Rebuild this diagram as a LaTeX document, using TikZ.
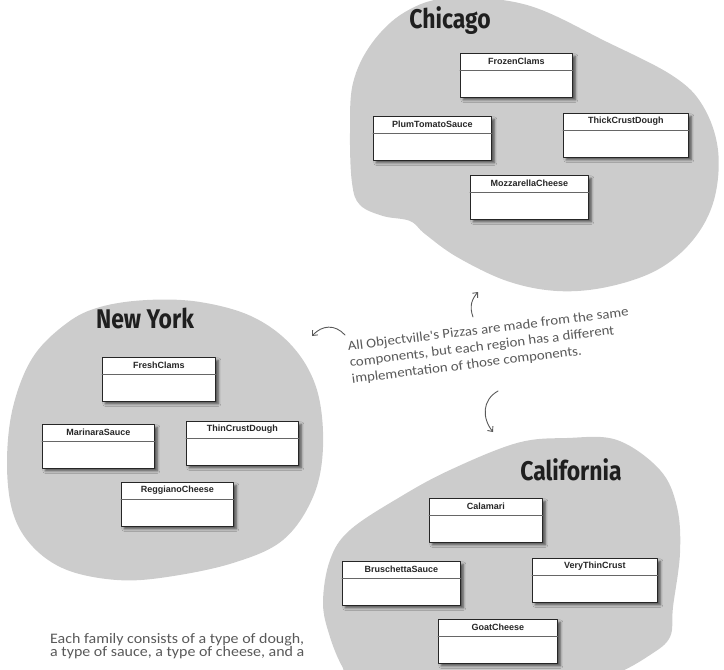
\documentclass[tikz,border=0pt]{standalone}
\usepackage{fontspec}
\usetikzlibrary{shadows.blur,arrows.meta}
\newfontfamily\handfont[FakeStretch=1.1]{Carlito}
\newfontfamily\titlefont[FakeStretch=0.85]{Fira Sans}
\newfontfamily\boxfont{Liberation Sans}
\newcommand\ingredient[5]{%
\node[classbox,minimum width=#4pt,anchor=north west] (#1) at (#2,#3) {};
\node[classname] (#1-name) at ([yshift=-8.5pt]#1.north) {#5};
\draw[divider] ([yshift=-17pt]#1.north west)--([yshift=-17pt]#1.north east);}
\begin{document}
\begin{tikzpicture}[x=1pt,y=-1pt,line join=round,line cap=round,>={Straight Barb[length=4pt,width=7pt]},
blob/.style={fill=black!20},
region/.style={font=\titlefont\bfseries\fontsize{27}{30}\selectfont,text=black!88,inner sep=0pt},
classbox/.style={draw=black!85,fill=white,line width=0.7pt,minimum height=43.5pt,inner sep=0pt,
  blur shadow={shadow xshift=3pt,shadow yshift=-3pt,shadow blur radius=2.5pt,shadow opacity=60}},
classname/.style={font=\boxfont\bfseries\fontsize{9}{10}\selectfont,text=black!85,inner sep=0pt},
divider/.style={draw=black!60,line width=0.6pt},
note/.style={font=\handfont\fontsize{13.5}{16.5}\selectfont,text=black!65,align=left,inner sep=0pt},
pointer/.style={draw=black!65,line width=0.9pt,->}]
\useasboundingbox (0,0) rectangle (724,670);
\clip (0,0) rectangle (724,670);
\fill[blob] plot[smooth cycle,tension=0.6] coordinates{(405,12) (450,-2) (527,5) (607,42) (673,76) (703,106) (718,150) (714,200) (693,240) (657,270) (607,287) (557,291) (507,281) (457,257) (425,234) (410,221) (383,216) (360,205) (352,183) (350,133) (353,83) (372,43)};
\fill[blob] plot[smooth cycle,tension=0.6] coordinates{(147,300) (200,302) (253,317) (293,347) (317,390) (323,447) (313,497) (283,540) (233,563) (167,577) (117,580) (67,570) (33,547) (13,513) (7,463) (13,407) (33,357) (67,323) (100,307)};
\fill[blob] plot[smooth cycle,tension=0.6] coordinates{(567,438) (617,440) (660,470) (677,507) (680,553) (673,607) (670,637) (650,655) (613,675) (560,690) (360,690) (343,668) (330,637) (323,603) (330,560) (350,530) (400,497) (450,470) (517,443)};
\node[region] (chicago) at (450,21) {Chicago};
\node[region] (newyork) at (145,318) {New York};
\node[region] (california) at (571,470) {California};
\ingredient{frozen}{460}{53}{112}{FrozenClams}
\ingredient{plumtomato}{373}{116}{118}{PlumTomatoSauce}
\ingredient{thickcrust}{563}{113}{125}{ThickCrustDough}
\ingredient{mozzarella}{470}{175}{118}{MozzarellaCheese}
\ingredient{freshclams}{102}{357}{113}{FreshClams}
\ingredient{marinara}{42}{424}{112}{MarinaraSauce}
\ingredient{thincrust}{186}{421}{112}{ThinCrustDough}
\ingredient{reggiano}{121}{482}{112}{ReggianoCheese}
\ingredient{calamari}{429}{498}{113}{Calamari}
\ingredient{bruschetta}{342}{561}{118}{BruschettaSauce}
\ingredient{verythin}{532}{558}{125}{VeryThinCrust}
\ingredient{goat}{438}{619}{119}{GoatCheese}
\node[note,rotate=7,anchor=north west] (allregions) at (347,341) {All Objectville's Pizzas are made from the same\\components, but each region has a different\\implementation of those components.};
\node[note,anchor=north west,font=\handfont\fontsize{14.5}{13.5}\selectfont] (family) at (50,633) {Each family consists of a type of dough,\\a type of sauce, a type of cheese, and a};
\coordinate (up0) at (473,317); \coordinate (up1) at (478,292);
\coordinate (left0) at (345,335); \coordinate (left1) at (312,336);
\coordinate (down0) at (498,391); \coordinate (down1) at (493,432);
\draw[pointer] (up0) .. controls (469,306) and (472,299) .. (up1);
\draw[pointer] (left0) .. controls (335,324) and (322,325) .. (left1);
\draw[pointer] (down0) .. controls (482,400) and (482,418) .. (down1);
\end{tikzpicture}
\end{document}
